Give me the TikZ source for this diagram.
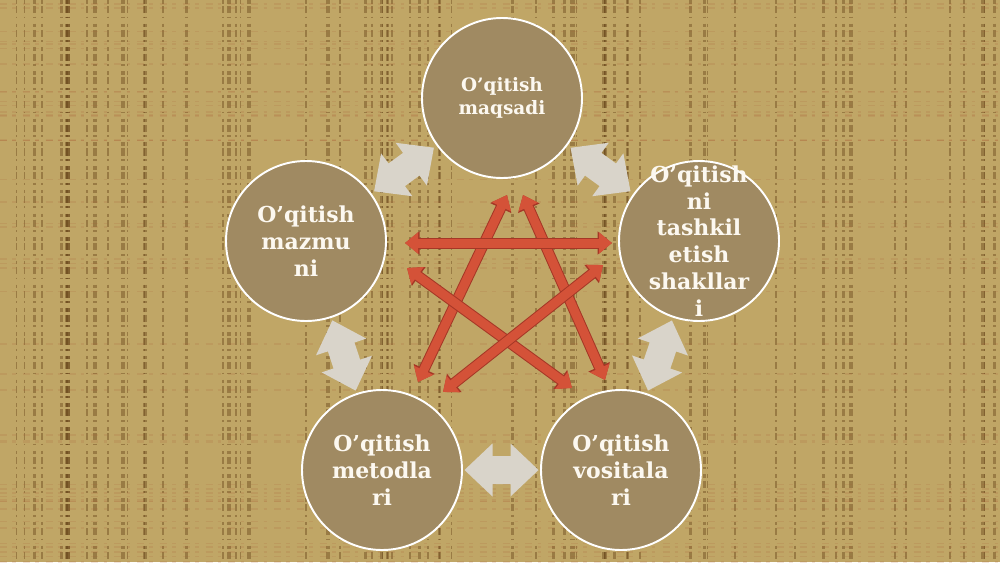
\documentclass[tikz,border=0pt]{standalone}
\usepackage{fontspec}
\setmainfont{DejaVu Serif}
\usetikzlibrary{arrows.meta,calc}

\definecolor{burlap}{RGB}{192,166,102}
\definecolor{streak}{RGB}{95,60,18}
\definecolor{streakred}{RGB}{170,90,50}
\definecolor{stagefill}{RGB}{160,138,98}
\definecolor{stageink}{RGB}{252,248,240}
\definecolor{linkgrey}{RGB}{217,212,202}
\definecolor{crossred}{RGB}{212,82,56}
\definecolor{crossedge}{RGB}{165,55,38}

\tikzset{
  warp/.style={draw=streak, opacity=.4, dash pattern=on 2pt off 1.5pt on 4pt off 2pt on 1pt off 3pt},
  weft/.style={draw=streakred, opacity=.15, dash pattern=on 4pt off 3pt on 2pt off 4pt},
  stage/.style={circle, draw=white, line width=1.1pt, fill=stagefill,
    minimum size=32mm, inner sep=0pt},
  stagetext/.style={align=center, text=stageink, inner sep=0pt,
    font=\bfseries\fontsize{12.5}{15.2}\selectfont},
  linkarrow/.pic={
    \fill[linkgrey] (-37,0) -- (-9,-26.5) -- (-9,-14) -- (9,-14) -- (9,-26.5)
      -- (37,0) -- (9,26.5) -- (9,14) -- (-9,14) -- (-9,26.5) -- cycle;
  },
  redtip/.tip={Triangle[width=4.1mm,length=2.6mm]},
  edgetip/.tip={Triangle[width=4.5mm,length=2.9mm]},
  crossarrow/.style={draw=crossred, line width=1.8mm, redtip-redtip,
    preaction={draw=crossedge, line width=2.2mm, edgetip-edgetip}},
}

\begin{document}
\begin{tikzpicture}[x=0.2mm, y=-0.2mm]
  \useasboundingbox (0,0) rectangle (1000,562);

  % burlap background
  \fill[burlap] (0,0) rectangle (1000,562);
  \begin{scope}
    \clip (0,0) rectangle (1000,562);
    \pgfmathsetseed{42}
    \foreach \k in {1,...,70}{
      \pgfmathsetmacro\sx{1000*rnd}
      \pgfmathsetmacro\sw{0.5+1.6*rnd}
      \draw[warp, line width=\sw pt] (\sx,0) -- (\sx,562);
    }
    \foreach \k in {1,...,45}{
      \pgfmathsetmacro\sy{562*rnd}
      \pgfmathsetmacro\sw{0.4+1.0*rnd}
      \draw[weft, line width=\sw pt] (0,\sy) -- (1000,\sy);
    }
  \end{scope}

  % the five circles
  \node[stage] (maqsad) at (502,98) {};
  \node[stage] (shakl) at (699,241) {};
  \node[stage] (vosita) at (621,470) {};
  \node[stage] (metod) at (382,470) {};
  \node[stage] (mazmun) at (306,241) {};

  % red star
  \coordinate (maqsadA) at (507,195);
  \coordinate (maqsadB) at (523,195);
  \coordinate (shaklA) at (612,243);
  \coordinate (shaklB) at (603,265);
  \coordinate (vositaA) at (605,380);
  \coordinate (vositaB) at (572,388);
  \coordinate (metodA) at (418,382);
  \coordinate (metodB) at (443,392);
  \coordinate (mazmunA) at (405,243);
  \coordinate (mazmunB) at (407,268);

  \draw[crossarrow] (maqsadA) -- (metodA);
  \draw[crossarrow] (maqsadB) -- (vositaA);
  \draw[crossarrow] (mazmunB) -- (vositaB);
  \draw[crossarrow] (shaklB) -- (metodB);
  \draw[crossarrow] (mazmunA) -- (shaklA);

  % grey links between neighbours
  \path (maqsad) -- pic[pos=.5, sloped]{linkarrow} (shakl);
  \path (shakl) -- pic[pos=.5, sloped]{linkarrow} (vosita);
  \path (vosita) -- pic[pos=.5, sloped]{linkarrow} (metod);
  \path (metod) -- pic[pos=.5, sloped]{linkarrow} (mazmun);
  \path (mazmun) -- pic[pos=.5, sloped]{linkarrow} (maqsad);

  % labels
  \node[stagetext, font=\bfseries\fontsize{10.5}{13}\selectfont] (maqsadtext) at (maqsad) {O’qitish\\maqsadi};
  \node[stagetext] (shakltext) at (shakl) {O’qitish\\ni\\tashkil\\etish\\shakllar\\i};
  \node[stagetext] (vositatext) at (vosita) {O’qitish\\vositala\\ri};
  \node[stagetext] (metodtext) at (metod) {O’qitish\\metodla\\ri};
  \node[stagetext] (mazmuntext) at (mazmun) {O’qitish\\mazmu\\ni};
\end{tikzpicture}
\end{document}
